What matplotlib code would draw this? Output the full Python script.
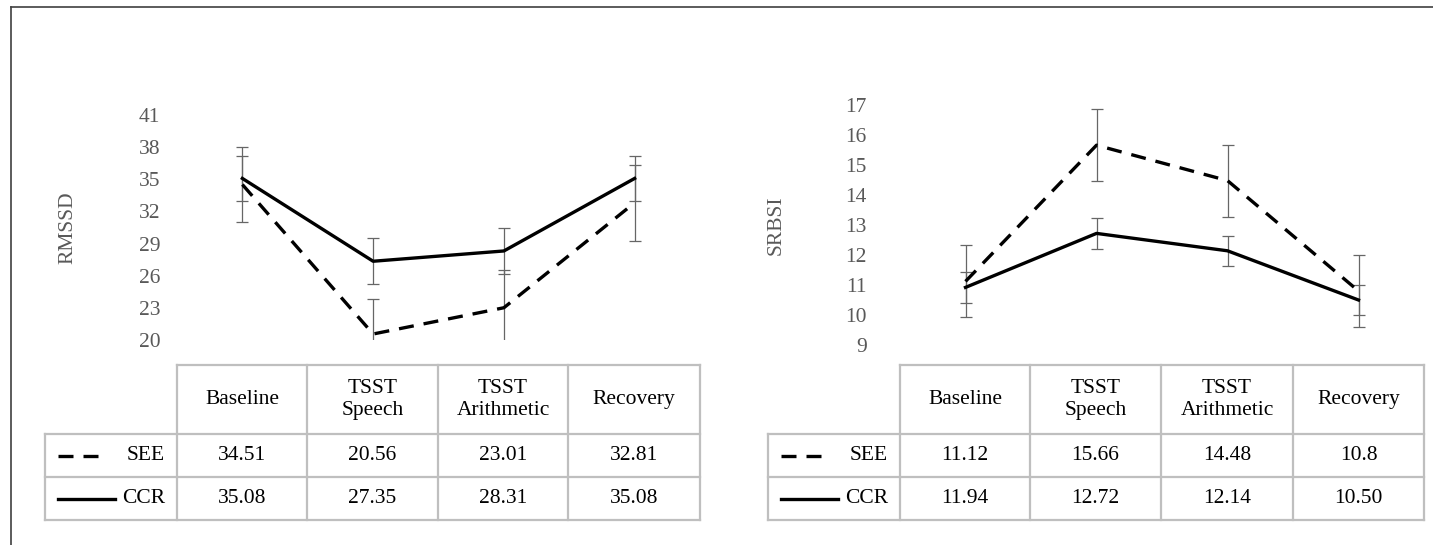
import numpy as np
import matplotlib.pyplot as plt

plt.rcParams['font.family'] = ['Liberation Serif', 'DejaVu Serif']

phases = ["Baseline", "TSST\nSpeech", "TSST\nArithmetic", "Recovery"]

# RMSSD panel
rmssd_see = [34.51, 20.56, 23.01, 32.81]
rmssd_ccr = [35.08, 27.35, 28.31, 35.08]
rmssd_see_err = [3.5, 3.3, 3.5, 3.55]
rmssd_ccr_err = [2.1, 2.15, 2.15, 2.1]
rmssd_see_txt = ["34.51", "20.56", "23.01", "32.81"]
rmssd_ccr_txt = ["35.08", "27.35", "28.31", "35.08"]
rmssd_ticks = [20, 23, 26, 29, 32, 35, 38, 41]

# SRBSI panel (plotted line values as drawn; table text as printed)
srbsi_see = [11.12, 15.66, 14.48, 10.8]
srbsi_ccr = [10.92, 12.72, 12.14, 10.50]
srbsi_see_err = [1.2, 1.2, 1.2, 1.2]
srbsi_ccr_err = [0.51, 0.51, 0.51, 0.51]
srbsi_see_txt = ["11.12", "15.66", "14.48", "10.8"]
srbsi_ccr_txt = ["11.94", "12.72", "12.14", "10.50"]
srbsi_ticks = [9, 10, 11, 12, 13, 14, 15, 16, 17]

W, H = 1433, 545
GRAY = "#595959"
GRID = "#bfbfbf"
DASH = (0, (4.5, 3))
FS = 15.5

fig = plt.figure(figsize=(W / 100, H / 100), dpi=100)

# pixel-space background axes for frame and tables
bg = fig.add_axes([0, 0, 1, 1])
bg.set_xlim(0, W)
bg.set_ylim(H, 0)
bg.axis("off")
bg.plot([11, W], [7, 7], color="#404040", lw=1.2)
bg.plot([11, 11], [7, H], color="#404040", lw=1.2)


def panel(rect, see, ccr, see_err, ccr_err, ticks, label, label_x, pad):
    x0, x1, ytop, ybot = rect
    ax = fig.add_axes([x0 / W, (H - ybot) / H, (x1 - x0) / W, (ybot - ytop) / H])
    x = np.arange(len(see))
    ekw = dict(fmt="none", ecolor="#666666", elinewidth=0.9, capsize=4, capthick=0.9)
    ax.errorbar(x, see, yerr=see_err, **ekw)
    ax.errorbar(x, ccr, yerr=ccr_err, **ekw)
    ax.plot(x, see, color="black", lw=2.4, linestyle=DASH)
    ax.plot(x, ccr, color="black", lw=2.4)
    ax.set_xlim(-0.5, len(see) - 0.5)
    ax.set_ylim(ticks[0], ticks[-1])
    ax.set_yticks(ticks)
    ax.set_xticks([])
    ax.tick_params(axis="y", length=0, pad=pad, labelsize=FS, labelcolor=GRAY)
    for s in ax.spines.values():
        s.set_visible(False)
    ax.patch.set_alpha(0)
    fig.text(label_x / W, 1 - (ytop + ybot) / 2 / H, label, rotation=90,
             ha="center", va="center", fontsize=FS, color=GRAY)
    return ax


def table(cols, lab_x, see_txt, ccr_txt):
    top, hb, r1, r2 = 365, 434, 477, 520
    bg.plot([cols[0], cols[-1]], [top, top], color=GRID, lw=1.6)
    for y in (hb, r1, r2):
        bg.plot([lab_x, cols[-1]], [y, y], color=GRID, lw=1.6)
    bg.plot([lab_x, lab_x], [hb, r2], color=GRID, lw=1.6)
    for c in cols:
        bg.plot([c, c], [top, r2], color=GRID, lw=1.6)
    for i, name in enumerate(phases):
        cx = (cols[i] + cols[i + 1]) / 2
        bg.text(cx, (top + hb) / 2, name, ha="center", va="center",
                fontsize=FS, linespacing=1.25)
        bg.text(cx, (hb + r1) / 2, see_txt[i], ha="center", va="center", fontsize=FS)
        bg.text(cx, (r1 + r2) / 2, ccr_txt[i], ha="center", va="center", fontsize=FS)
    ys, yc = (hb + r1) / 2, (r1 + r2) / 2
    bg.plot([lab_x + 13, lab_x + 60], [ys, ys], color="black", lw=2.4, linestyle=DASH)
    bg.text(cols[0] - 12, ys, "SEE", ha="right", va="center", fontsize=FS)
    bg.plot([lab_x + 13, lab_x + 70], [yc, yc], color="black", lw=2.4)
    bg.text(cols[0] - 12, yc, "CCR", ha="right", va="center", fontsize=FS)


panel((177, 700, 115, 340), rmssd_see, rmssd_ccr, rmssd_see_err, rmssd_ccr_err,
      rmssd_ticks, "RMSSD", 68, 12)
panel((900, 1424, 105, 345), srbsi_see, srbsi_ccr, srbsi_see_err, srbsi_ccr_err,
      srbsi_ticks, "SRBSI", 776, 24)

table([177, 307, 438, 568, 700], 45, rmssd_see_txt, rmssd_ccr_txt)
table([900, 1030, 1161, 1293, 1424], 768, srbsi_see_txt, srbsi_ccr_txt)

fig.savefig("out.png", dpi=100)
